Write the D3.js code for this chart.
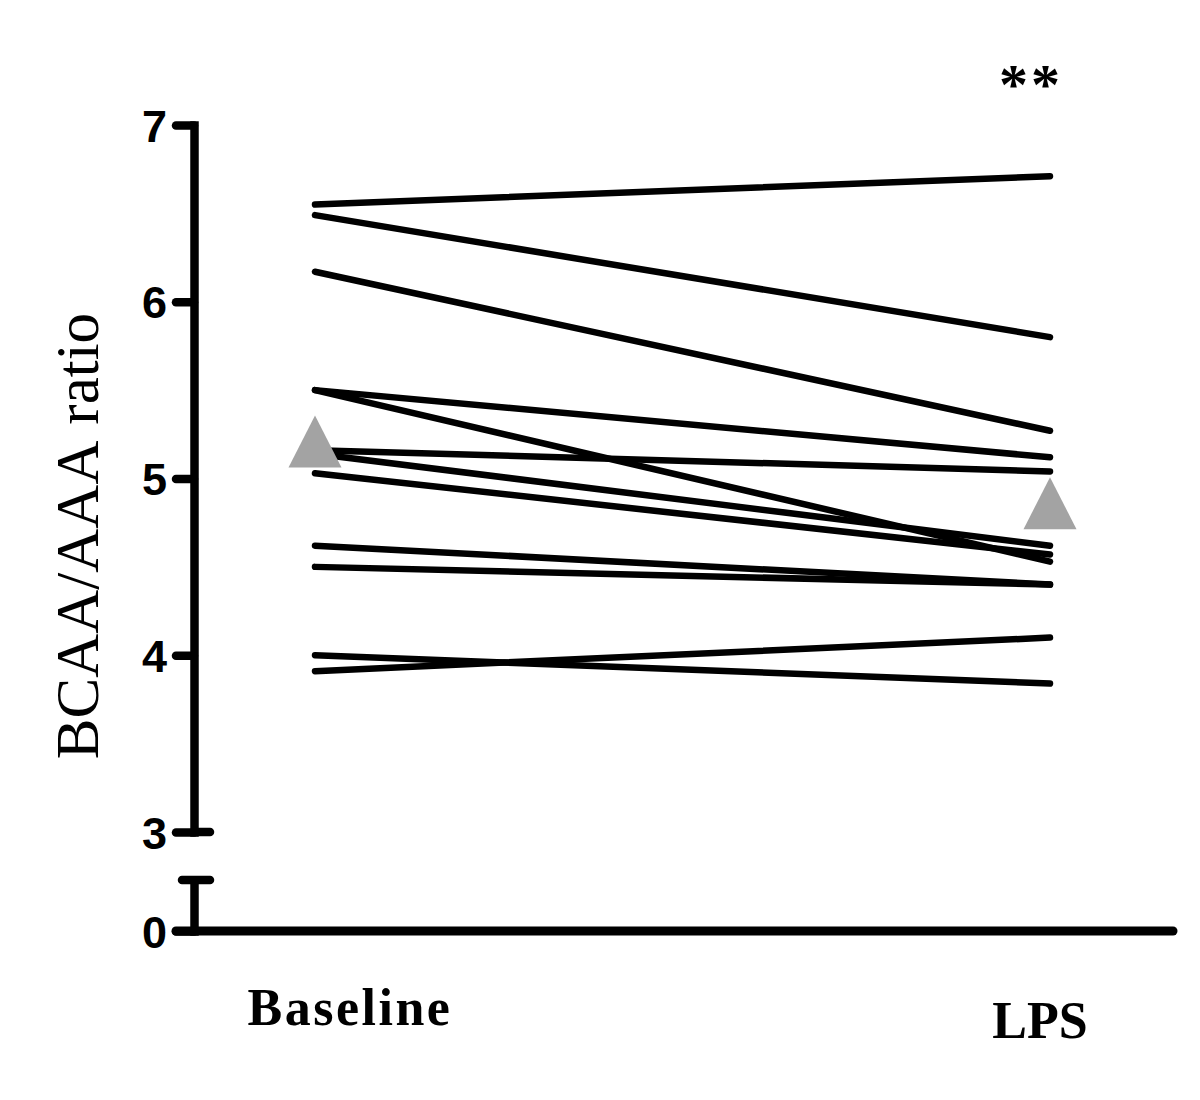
<!DOCTYPE html>
<html>
<head>
<meta charset="utf-8">
<script src="https://cdn.jsdelivr.net/npm/d3@7"></script>
<style>
  body { margin: 0; background: #fff; }
  svg { display: block; }
</style>
</head>
<body>
<div id="chart"></div>
<script>
var svgWidth = 1200;
var svgHeight = 1100;

// data
var groups = ["Baseline", "LPS"];
var baselineValues = [6.55, 6.49, 6.17, 5.50, 5.50, 5.16, 5.14, 5.03, 4.62, 4.50, 4.00, 3.91];
var lpsValues      = [6.71, 5.80, 5.27, 5.12, 4.53, 5.04, 4.62, 4.57, 4.40, 4.40, 3.84, 4.10];
var meanValues = [5.21, 4.86];
var upperTicks = [3, 4, 5, 6, 7];
var lowerTicks = [0];

var svg = d3.select("#chart")
  .append("svg")
  .attr("width", svgWidth)
  .attr("height", svgHeight);

var axisX = 194;

// scales
var x = d3.scalePoint()
  .domain(groups)
  .range([315, 1050]);

var y = d3.scaleLinear()
  .domain([3, 7])
  .range([832, 125]);

// lower piece of the broken axis
var yLow = d3.scaleLinear()
  .domain([0, 0.29])
  .range([931, 880]);

// upper y axis
var upperAxis = svg.append("g")
  .attr("transform", `translate(${axisX},0)`)
  .call(d3.axisLeft(y).tickValues(upperTicks).tickSize(18).tickSizeOuter(0).tickPadding(9).tickFormat(d3.format("d")));

// lower y axis
var lowerAxis = svg.append("g")
  .attr("transform", `translate(${axisX},0)`)
  .call(d3.axisLeft(yLow).tickValues(lowerTicks).tickSize(18).tickSizeOuter(0).tickPadding(9).tickFormat(d3.format("d")));

[upperAxis, lowerAxis].forEach(function(g) {
  g.select(".domain")
    .attr("stroke", "#000")
    .attr("stroke-width", 8.5)
    .attr("stroke-linecap", "square");
  g.selectAll(".tick line")
    .attr("stroke", "#000")
    .attr("stroke-width", 8.5)
    .attr("stroke-linecap", "round");
  g.selectAll(".tick text")
    .attr("dy", "0.36em")
    .style("font-family", "'Liberation Sans', Arial, sans-serif")
    .style("font-weight", "bold")
    .style("font-size", "45px")
    .attr("fill", "#000");
});

// break caps
svg.append("line")
  .attr("x1", axisX).attr("x2", 210)
  .attr("y1", y(3)).attr("y2", y(3))
  .attr("stroke", "#000").attr("stroke-width", 8.5).attr("stroke-linecap", "round");
svg.append("line")
  .attr("x1", 182).attr("x2", 210)
  .attr("y1", yLow.range()[1]).attr("y2", yLow.range()[1])
  .attr("stroke", "#000").attr("stroke-width", 8.5).attr("stroke-linecap", "round");

// x axis line
svg.append("line")
  .attr("x1", 176).attr("x2", 1173)
  .attr("y1", yLow(0)).attr("y2", yLow(0))
  .attr("stroke", "#000").attr("stroke-width", 9).attr("stroke-linecap", "round");

// paired lines
var pairs = baselineValues.map(function(v, i) {
  return [{ g: groups[0], v: v }, { g: groups[1], v: lpsValues[i] }];
});

var line = d3.line()
  .x(d => x(d.g))
  .y(d => y(d.v));

svg.append("g")
  .selectAll("path")
  .data(pairs)
  .enter()
  .append("path")
  .attr("d", line)
  .attr("fill", "none")
  .attr("stroke", "#000")
  .attr("stroke-width", 6.5)
  .attr("stroke-linecap", "round");

// mean markers (gray triangles)
svg.append("g")
  .selectAll("path")
  .data(groups)
  .enter()
  .append("path")
  .attr("transform", (d, i) => `translate(${x(d)},${y(meanValues[i])})`)
  .attr("d", "M0,-26L26.5,26L-26.5,26Z")
  .attr("fill", "#a3a3a3");

// category labels
var catLabels = [
  { text: "Baseline", x: 350, y: 1025, spacing: 2.5 },
  { text: "LPS", x: 1040, y: 1038, spacing: 0 }
];
svg.selectAll(".cat")
  .data(catLabels)
  .enter()
  .append("text")
  .attr("class", "cat")
  .attr("x", d => d.x)
  .attr("y", d => d.y)
  .attr("text-anchor", "middle")
  .style("letter-spacing", d => d.spacing + "px")
  .style("font-family", "'Liberation Serif', 'Times New Roman', serif")
  .style("font-weight", "bold")
  .style("font-size", "52px")
  .text(d => d.text);

// y label
svg.append("text")
  .attr("transform", "translate(98,536) rotate(-90)")
  .attr("text-anchor", "middle")
  .style("font-family", "'Liberation Serif', 'Times New Roman', serif")
  .style("font-size", "61px")
  .style("word-spacing", "4px")
  .text("BCAA/AAA ratio");

// significance
svg.append("text")
  .attr("x", x("LPS") - 19)
  .attr("y", 104)
  .attr("text-anchor", "middle")
  .style("font-family", "'Liberation Serif', 'Times New Roman', serif")
  .style("font-weight", "bold")
  .style("letter-spacing", "3px")
  .style("font-size", "58px")
  .text("**");
</script>
</body>
</html>
